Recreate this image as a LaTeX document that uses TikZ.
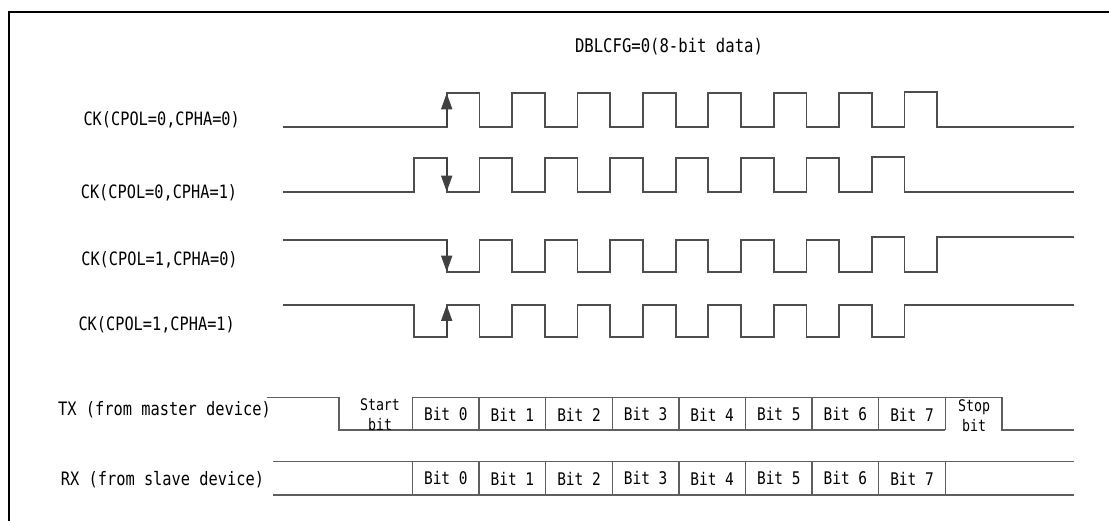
\documentclass[tikz,border=0pt]{standalone}
\usepackage{fontspec}
\setmonofont{DejaVu Sans Mono}[FakeStretch=0.83]
\usepackage{xcolor}
\usetikzlibrary{arrows.meta, math}
\definecolor{wavegray}{RGB}{78,78,78}
\definecolor{busgray}{RGB}{95,95,95}
\definecolor{tipgray}{RGB}{64,64,64}

\begin{document}
\begin{tikzpicture}[x=1pt,y=-1pt,
  wave/.style={draw=wavegray, line width=1.8pt, line join=miter},
  bus/.style={draw=busgray, line width=1.5pt},
  edgetip/.style={draw=tipgray, line width=1.8pt, -{Triangle[length=16pt,width=11pt,fill=tipgray]}},
  lbl/.style={inner sep=0pt, font=\ttfamily\fontsize{18.4}{20}\selectfont},
  buslbl/.style={inner sep=0pt, font=\ttfamily\fontsize{18.5}{20}\selectfont},
  bitlbl/.style={inner sep=0pt, font=\ttfamily\fontsize{17.4}{19}\selectfont},
  sslbl/.style={inner sep=0pt, align=center, font=\ttfamily\fontsize{16}{20}\selectfont}]
\tikzmath{
\hp=32.7;
\xa=446.7;
\xb=414;
\bx=412.5;
\bw=66.6;
}
\useasboundingbox (0,0) rectangle (1109,521);
\draw[line width=2pt] (9,521) -- (9,12) -- (1109,12);

\node[inner sep=0pt, font=\ttfamily\fontsize{18.8}{20}\selectfont] (title) at (669,46.7) {DBLCFG=0(8-bit data)};

% clock labels
\node[lbl] (ck1) at (161.7,120) {CK(CPOL=0,CPHA=0)};
\node[lbl] (ck2) at (159,193.3) {CK(CPOL=0,CPHA=1)};
\node[lbl] (ck3) at (159.5,260) {CK(CPOL=1,CPHA=0)};
\node[lbl] (ck4) at (156.7,325) {CK(CPOL=1,CPHA=1)};

% clocks
\draw[wave] (283,126.7) -- (\xa,126.7)
  \foreach \k in {0,...,6}{ -- ++(0,-33.4) -- ++(\hp,0) -- ++(0,33.4) -- ++(\hp,0) }
  -- ++(0,-35) -- ++(\hp,0) -- ++(0,35) -- (1074,126.7);
\draw[wave] (283,191.7) -- (\xb,191.7)
  \foreach \k in {0,...,6}{ -- ++(0,-33.4) -- ++(\hp,0) -- ++(0,33.4) -- ++(\hp,0) }
  -- ++(0,-35) -- ++(\hp,0) -- ++(0,35) -- (1074,191.7);
\draw[wave] (283,240) -- (\xa,240)
  \foreach \k in {0,...,5}{ -- ++(0,31.7) -- ++(\hp,0) -- ++(0,-31.7) -- ++(\hp,0) }
  -- ++(0,31.7) -- ++(\hp,0) -- ++(0,-34.4) -- ++(\hp,0) -- ++(0,34.4) -- ++(\hp,0) -- ++(0,-34.4) -- (1074,237.3);
\draw[wave] (283,305) -- (\xb,305)
  \foreach \k in {0,...,7}{ -- ++(0,31.7) -- ++(\hp,0) -- ++(0,-31.7) -- ++(\hp,0) } -- (1074,305);

\draw[edgetip] (\xa,126.7) -- (\xa,93.3);
\draw[edgetip] (\xa,158.3) -- (\xa,191.7);
\draw[edgetip] (\xa,240) -- (\xa,271.7);
\draw[edgetip] (\xa,336.7) -- (\xa,305);

% TX / RX
\node[buslbl] (tx) at (164.5,410) {TX (from master device)};
\node[buslbl] (rx) at (162.5,480) {RX (from slave device)};

\draw[bus] (267,397.3) -- (339,397.3) -- (339,430) -- (945,430);
\draw[bus] (\bx,397.3) -- (1002,397.3) -- (1002,430) -- (1074,430);
\draw[bus] (273,461.7) -- (1074,461.7);
\draw[bus] (273,495) -- (1074,495);
\foreach \i in {0,...,8}{
\draw[bus] (\bx+\bw*\i,397.3) -- ++(0,32.7);
\draw[bus] (\bx+\bw*\i,461.7) -- ++(0,33.3);
}
\foreach \i in {0,...,7}{
\node[bitlbl] (txb\i) at (\bx+\bw*\i+\bw/2,414.5) {Bit \i};
\node[bitlbl] (rxb\i) at (\bx+\bw*\i+\bw/2,478.5) {Bit \i};
}
\node[sslbl] (start) at (380,415) {Start\\bit};
\node[sslbl] (stop) at (974,416) {Stop\\bit};

\end{tikzpicture}
\end{document}
